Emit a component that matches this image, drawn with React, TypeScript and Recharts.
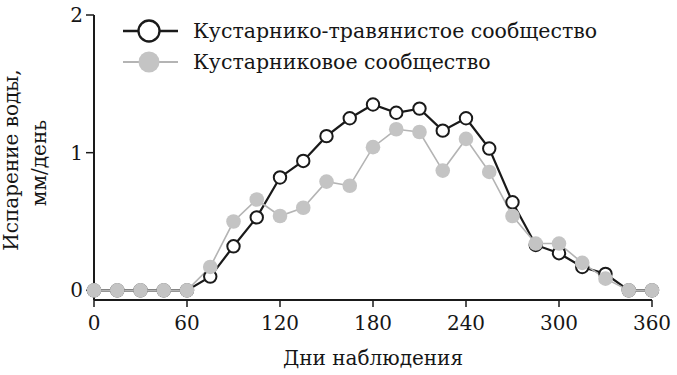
import React from 'react';
import { LineChart, Line, XAxis, YAxis, Legend, Label } from 'recharts';

const days = [0, 15, 30, 45, 60, 75, 90, 105, 120, 135, 150, 165, 180, 195, 210, 225, 240, 255, 270, 285, 300, 315, 330, 345, 360];
const shrubGrass = [0, 0, 0, 0, 0, 0.1, 0.32, 0.53, 0.82, 0.94, 1.12, 1.25, 1.35, 1.29, 1.32, 1.16, 1.25, 1.03, 0.64, 0.33, 0.27, 0.17, 0.12, 0, 0];
const shrub = [0, 0, 0, 0, 0, 0.17, 0.5, 0.66, 0.54, 0.6, 0.79, 0.76, 1.04, 1.17, 1.15, 0.87, 1.1, 0.86, 0.54, 0.34, 0.34, 0.2, 0.085, 0, 0];
const seriesNames = ['Кустарнико-травянистое сообщество', 'Кустарниковое сообщество'];
const xTicks = [0, 60, 120, 180, 240, 300, 360];
const yTicks = [0, 1, 2];
const xLabel = 'Дни наблюдения';
const yLabelLines = ['Испарение воды,', 'мм/день'];

const data = days.map((d, i) => ({ day: d, shrubGrass: shrubGrass[i], shrub: shrub[i] }));

const FONT = '"DejaVu Serif", serif';
const TEXT = '#161616';
const BLACK = '#1a1a1a';
const GREY_LINE = '#b4b4b4';
const GREY_DOT = '#c4c4c4';

const styleFor: Record<string, { line: string; fill: string; stroke: string; sw: number; lw: number }> = {
  shrubGrass: { line: BLACK, fill: '#fff', stroke: BLACK, sw: 2, lw: 2.2 },
  shrub: { line: GREY_LINE, fill: GREY_DOT, stroke: 'none', sw: 0, lw: 1.6 },
};

const renderLegend = (props: any) => {
  const payload = props.payload || [];
  return (
    <div style={{ fontFamily: FONT, fontSize: 20.5, color: TEXT }}>
      {payload.map((entry: any) => {
        const s = styleFor[entry.dataKey];
        return (
          <div key={entry.dataKey} style={{ display: 'flex', alignItems: 'center', height: 31 }}>
            <svg width={60} height={28} style={{ display: 'block' }}>
              <line x1={2} y1={14} x2={57} y2={14} stroke={s.line} strokeWidth={s.lw + 0.4} />
              <circle cx={28} cy={14} r={10.5} fill={s.fill} stroke={s.stroke} strokeWidth={s.sw + 0.3} />
            </svg>
            <span style={{ marginLeft: 12, whiteSpace: 'nowrap' }}>{entry.value}</span>
          </div>
        );
      })}
    </div>
  );
};

const renderYLabel = () => (
  <g fontFamily={FONT} fontSize={20} fill={TEXT}>
    <text x={18} y={160} textAnchor="middle" transform="rotate(-90, 18, 160)">{yLabelLines[0]}</text>
    <text x={46} y={163} textAnchor="middle" transform="rotate(-90, 46, 163)">{yLabelLines[1]}</text>
  </g>
);

const renderXLabel = () => (
  <text x={373} y={365} textAnchor="middle" fontFamily={FONT} fontSize={20} fill={TEXT}>{xLabel}</text>
);

export default function App() {
  return (
    <div style={{ position: 'absolute', left: 0, top: 0, background: '#fff' }}>
      <LineChart width={677} height={375} data={data} margin={{ top: 15, right: 25, bottom: 0, left: 0 }}>
        <XAxis
          dataKey="day"
          type="number"
          domain={[0, 360]}
          ticks={xTicks}
          height={75}
          stroke={BLACK}
          strokeWidth={2}
          tickSize={7}
          tickMargin={9}
          tick={{ fill: TEXT, fontFamily: FONT, fontSize: 20 }}
          tickLine={{ stroke: BLACK, strokeWidth: 1.5 }}
        >
          <Label content={renderXLabel} />
        </XAxis>
        <YAxis
          type="number"
          domain={[-0.07, 2]}
          ticks={yTicks}
          width={94}
          allowDataOverflow
          stroke={BLACK}
          strokeWidth={2}
          tickSize={8}
          tickMargin={3}
          tick={{ fill: TEXT, fontFamily: FONT, fontSize: 20 }}
          tickLine={{ stroke: BLACK, strokeWidth: 1.5 }}
        >
          <Label content={renderYLabel} />
        </YAxis>
        <Legend
          layout="vertical"
          align="center"
          verticalAlign="middle"
          content={renderLegend}
          wrapperStyle={{ left: 121, top: 15.5, width: 'auto' }}
        />
        <Line
          dataKey="shrubGrass"
          name={seriesNames[0]}
          stroke={BLACK}
          strokeWidth={2.2}
          dot={{ r: 6.2, fill: '#fff', stroke: BLACK, strokeWidth: 2 }}
          activeDot={false}
          isAnimationActive={false}
        />
        <Line
          dataKey="shrub"
          name={seriesNames[1]}
          stroke={GREY_LINE}
          strokeWidth={1.6}
          dot={{ r: 7.3, fill: GREY_DOT, stroke: 'none', strokeWidth: 0 }}
          activeDot={false}
          isAnimationActive={false}
        />
      </LineChart>
    </div>
  );
}
